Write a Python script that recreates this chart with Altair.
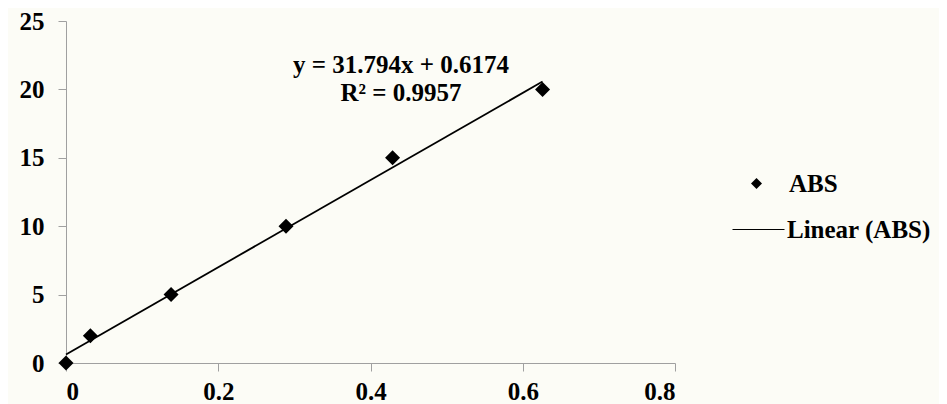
import altair as alt
import pandas as pd

# ---- data ----
conc = [0.0, 0.032, 0.138, 0.289, 0.429, 0.626]
abs_vals = [0, 2, 5, 10, 15, 20]
x_ticks = [0, 0.2, 0.4, 0.6, 0.8]
y_ticks = [0, 5, 10, 15, 20, 25]
equation_lines = ["y = 31.794x + 0.6174", "R² = 0.9957"]
point_series = "ABS"
trend_series = "Linear (ABS)"

df = pd.DataFrame({"x": conc, "y": abs_vals, "s": point_series, "t": trend_series})

FONT = "Liberation Serif"
GREY = "#a0a0a0"

xs = alt.Scale(domain=[0, 0.8], nice=False, zero=True)
ys = alt.Scale(domain=[0, 25], nice=False)
x_axis = alt.Axis(values=x_ticks, format="~g", title=None, grid=False, labelPadding=8)
y_axis = alt.Axis(values=y_ticks, format="~g", title=None, grid=False)

base = alt.Chart(df)

trend = base.transform_regression("x", "y", groupby=["t"]).mark_line(
    strokeWidth=1.8
).encode(
    x=alt.X("x:Q", scale=xs, axis=x_axis),
    y=alt.Y("y:Q", scale=ys, axis=y_axis),
    color=alt.Color(
        "t:N",
        scale=alt.Scale(range=["black"]),
        legend=alt.Legend(
            title=None, orient="none", legendX=666, legendY=182,
            symbolType="stroke", symbolSize=2704, symbolStrokeWidth=1,
            symbolStrokeColor="black", labelOffset=2, padding=0,
        ),
    ),
)

points = base.mark_point(filled=True, color="black", size=225, opacity=1).encode(
    x=alt.X("x:Q", scale=xs, axis=x_axis),
    y=alt.Y("y:Q", scale=ys, axis=y_axis),
    shape=alt.Shape(
        "s:N",
        scale=alt.Scale(range=["diamond"]),
        legend=alt.Legend(
            title=None, orient="none", legendX=678, legendY=150,
            symbolSize=121, symbolFillColor="black", symbolStrokeColor="black",
            symbolStrokeWidth=0, labelOffset=20, padding=0,
        ),
    ),
)

annot = alt.Chart(df).mark_text(
    text=equation_lines, font=FONT, fontSize=25, fontWeight="bold",
    color="black", align="center", baseline="middle", lineHeight=28,
).encode(
    x=alt.datum(0.44),
    y=alt.datum(21.76),
).transform_filter("datum.y == 0")

chart = alt.layer(trend, points, annot).properties(
    width=609,
    height=342,
    autosize=alt.AutoSizeParams(type="none"),
    padding={"left": 58, "top": 13, "right": 264, "bottom": 41},
    background="#fcfcf6",
).configure_view(stroke=None).configure_axis(
    labelFont=FONT, labelFontSize=25, labelFontWeight="bold", labelColor="black",
    domainColor=GREY, tickColor=GREY, tickSize=8, labelPadding=14, domainWidth=1,
    tickWidth=1,
).configure_legend(
    labelFont=FONT, labelFontSize=25, labelFontWeight="bold", labelColor="black",
)

chart.save("out.html", embed_options={"renderer": "svg", "actions": False})
